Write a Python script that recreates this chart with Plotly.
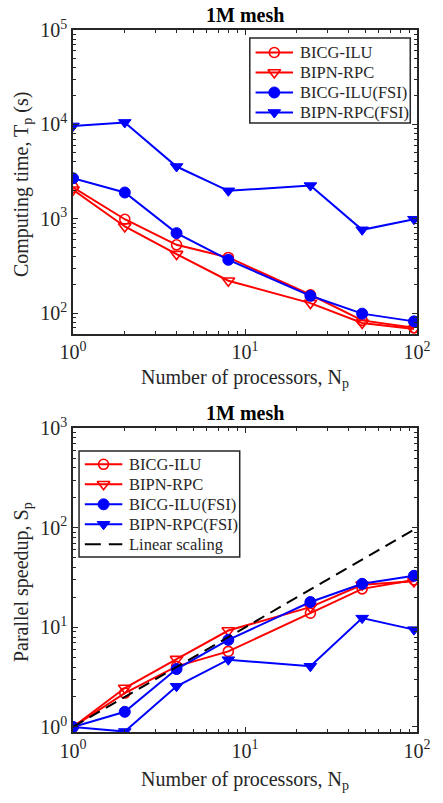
import plotly.graph_objects as go
from plotly.subplots import make_subplots
import numpy as np

# ---- data ----
procs = [1, 2, 4, 8, 24, 48, 96]
series_names = ["BICG-ILU", "BIPN-RPC", "BICG-ILU(FSI)", "BIPN-RPC(FSI)"]
linear_name = "Linear scaling"

time_bicg_ilu = [2150, 990, 531, 390, 157, 84, 70]
time_bipn_rpc = [2030, 830, 423, 221, 128, 79, 68]
time_bicg_ilu_fsi = [2690, 1900, 705, 368, 153, 99, 82]
time_bipn_rpc_fsi = [9640, 10500, 3580, 1980, 2250, 765, 990]

speed_bicg_ilu = [1.0, 2.19, 4.06, 5.74, 13.9, 24.4, 30.0]
speed_bipn_rpc = [1.0, 2.46, 4.8, 9.3, 16.0, 26.8, 29.0]
speed_bicg_ilu_fsi = [1.0, 1.42, 3.82, 7.5, 18.0, 27.4, 33.0]
speed_bipn_rpc_fsi = [1.0, 0.9, 2.56, 4.74, 4.07, 12.4, 9.5]
linear_x = [1, 2, 4, 8, 24, 48, 96]
linear_y = [1, 2, 4, 8, 24, 48, 96]

title_text = "1M mesh"
xlabel = "Number of processors, N<sub>p</sub>"
ylabel_top = "Computing time, T<sub>p</sub> (s)"
ylabel_bot = "Parallel speedup, S<sub>p</sub>"

FONT = "Liberation Serif, Times New Roman, serif"
AX = "#262626"
RED = "#FF0000"
BLUE = "#0000FF"

W, H = 443, 803
ML, MR, MT, MB = 73, 12, 30, 71
PW = W - ML - MR
PH = H - MT - MB

def py(ypx):
    return (H - MB - ypx) / PH

def px(xpx):
    return (xpx - ML) / PW

fig = make_subplots(rows=2, cols=1)

styles = [
    dict(color=RED, symbol="circle-open", size=10, lw=1.6),
    dict(color=RED, symbol="triangle-down-open", size=11, lw=1.6),
    dict(color=BLUE, symbol="circle", size=11, lw=1),
    dict(color=BLUE, symbol="triangle-down", size=11, lw=1),
]
top_data = [time_bicg_ilu, time_bipn_rpc, time_bicg_ilu_fsi, time_bipn_rpc_fsi]
bot_data = [speed_bicg_ilu, speed_bipn_rpc, speed_bicg_ilu_fsi, speed_bipn_rpc_fsi]

def mk(st):
    return dict(symbol=st["symbol"], size=st["size"], color=st["color"],
                line=dict(color=st["color"], width=st["lw"]))

for name, ys, st in zip(series_names, top_data, styles):
    fig.add_trace(go.Scatter(
        x=procs, y=ys, name=name, mode="lines+markers", showlegend=False,
        line=dict(color=st["color"], width=2), marker=mk(st)), row=1, col=1)

for name, ys, st in zip(series_names, bot_data, styles):
    fig.add_trace(go.Scatter(
        x=procs, y=ys, name=name, mode="lines+markers", showlegend=False,
        line=dict(color=st["color"], width=2), marker=mk(st)), row=2, col=1)

DASH = "12px,7px"
fig.add_trace(go.Scatter(
    x=linear_x, y=linear_y, name=linear_name, mode="lines", showlegend=False,
    line=dict(color="black", width=2, dash=DASH)), row=2, col=1)

def minor_vals(lo, hi):
    vals = []
    for d in range(lo, hi):
        for m in range(2, 10):
            vals.append(m * 10 ** d)
    return vals

def sup_labels(lo, hi):
    return [10 ** e for e in range(lo, hi + 1)], ["10<sup>%d</sup>" % e for e in range(lo, hi + 1)]

common = dict(
    type="log", showgrid=False, zeroline=False, showline=True, linecolor=AX, linewidth=1.5,
    mirror="allticks", ticks="inside", ticklen=5, tickwidth=1.2, tickcolor=AX,
    tickfont=dict(family=FONT, size=20, color=AX),
)

xv, xt = sup_labels(0, 2)
for r in (1, 2):
    fig.update_xaxes(range=[0, 2], tickmode="array", tickvals=xv, ticktext=xt,
                     minor=dict(ticks="inside", ticklen=3, tickcolor=AX, tickwidth=1,
                                tickmode="array", tickvals=minor_vals(0, 2)),
                     **common, row=r, col=1)

yv1, yt1 = sup_labels(2, 5)
fig.update_yaxes(range=[np.log10(61), 5], tickmode="array", tickvals=yv1, ticktext=yt1,
                 minor=dict(ticks="inside", ticklen=3, tickcolor=AX, tickwidth=1,
                            tickmode="array", tickvals=minor_vals(1, 5)),
                 **common, row=1, col=1)
yv2, yt2 = sup_labels(0, 3)
fig.update_yaxes(range=[np.log10(0.89), 3], tickmode="array", tickvals=yv2, ticktext=yt2,
                 minor=dict(ticks="inside", ticklen=3, tickcolor=AX, tickwidth=1,
                            tickmode="array", tickvals=minor_vals(-1, 3)),
                 **common, row=2, col=1)

# ---- legend boxes (pixel-unit overlay axes) ----
legends = [
    dict(box=(257, 424, 38, 123), first=14.5, step=20.0,
         entries=list(zip(series_names, styles)), ax="3"),
    dict(box=(79.3, 246.5, 451, 557), first=13.3, step=20.0,
         entries=list(zip(series_names, styles)) + [(linear_name, None)], ax="4"),
]

layout_axes = {}
for lg in legends:
    x0, x1, y0, y1 = lg["box"]
    n = lg["ax"]
    layout_axes["xaxis" + n] = dict(domain=[px(x0), px(x1)], range=[0, x1 - x0], anchor="y" + n,
                                    visible=False, fixedrange=True)
    layout_axes["yaxis" + n] = dict(domain=[py(y1), py(y0)], range=[y1 - y0, 0], anchor="x" + n,
                                    visible=False, fixedrange=True)
    fig.add_shape(type="rect", xref="paper", yref="paper",
                  x0=px(x0), x1=px(x1), y0=py(y1), y1=py(y0),
                  line=dict(color=AX, width=1.5), fillcolor="white", layer="below")
    for i, (name, st) in enumerate(lg["entries"]):
        yy = lg["first"] + lg["step"] * i
        if st is None:
            fig.add_trace(go.Scatter(x=[6, 45], y=[yy, yy], mode="lines", showlegend=False,
                                     hoverinfo="skip", line=dict(color="black", width=2, dash="16px,8px"),
                                     xaxis="x" + n, yaxis="y" + n))
        else:
            fig.add_trace(go.Scatter(x=[6, 45], y=[yy, yy], mode="lines", showlegend=False,
                                     hoverinfo="skip", line=dict(color=st["color"], width=2),
                                     xaxis="x" + n, yaxis="y" + n))
            fig.add_trace(go.Scatter(x=[25.5], y=[yy], mode="markers", showlegend=False,
                                     hoverinfo="skip", marker=mk(st),
                                     xaxis="x" + n, yaxis="y" + n))
        fig.add_annotation(xref="x" + n, yref="y" + n, x=50, y=yy, text=name, showarrow=False,
                           xanchor="left", yanchor="middle",
                           font=dict(family=FONT, size=16.5, color=AX))

fig.update_layout(
    xaxis=dict(domain=[0, 1]), xaxis2=dict(domain=[0, 1]),
    yaxis=dict(domain=[py(333.5), 1]),
    yaxis2=dict(domain=[0, py(428.3)]),
    **layout_axes,
)

fig.update_layout(
    width=W, height=H, margin=dict(l=ML, r=MR, t=MT, b=MB),
    paper_bgcolor="white", plot_bgcolor="rgba(0,0,0,0)",
    showlegend=False,
    font=dict(family=FONT, color=AX),
)

anns = [
    dict(text="<b>" + title_text + "</b>", x=0.5, y=py(15), font=dict(size=20, color="black")),
    dict(text="<b>" + title_text + "</b>", x=0.5, y=py(413), font=dict(size=20, color="black")),
    dict(text=xlabel, x=0.5, y=py(378), font=dict(size=20, color=AX)),
    dict(text=xlabel, x=0.5, y=py(781), font=dict(size=20, color=AX)),
    dict(text=ylabel_top, x=px(20), y=py(184), textangle=-90, font=dict(size=20, color=AX)),
    dict(text=ylabel_bot, x=px(20), y=py(582), textangle=-90, font=dict(size=20, color=AX)),
]
for a in anns:
    fig.add_annotation(xref="paper", yref="paper", showarrow=False,
                       xanchor="center", yanchor="middle",
                       font_family=FONT, **{k: v for k, v in a.items()})

fig.write_html("out.html")
